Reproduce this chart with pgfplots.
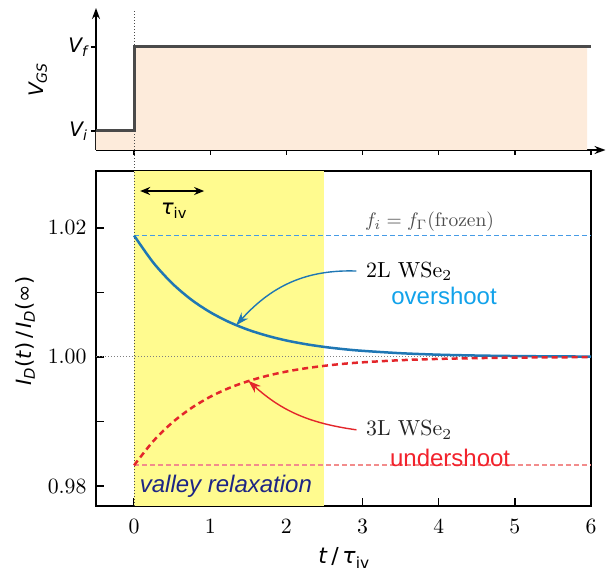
\documentclass[border=0pt]{standalone}
\usepackage{fontspec}
\usepackage{graphicx}
\usepackage{pgfplots}
\pgfplotsset{compat=1.18}
\usetikzlibrary{arrows.meta}
\newfontfamily\dv{DejaVu Sans}
\newfontfamily\lib{Liberation Sans}
\definecolor{stepgray}{HTML}{4A4A4A}
\definecolor{peach}{HTML}{FDEBDB}
\definecolor{hiyel}{HTML}{FFFB8F}
\definecolor{cblue}{HTML}{1F77B4}
\definecolor{cred}{HTML}{E3262B}
\definecolor{oblue}{HTML}{12A2EA}
\definecolor{ured}{HTML}{F2222C}
\definecolor{frzred}{HTML}{F28C8C}
\definecolor{navy}{HTML}{1D2585}
\newcommand{\fs}[1]{\fontsize{#1}{#1}\selectfont}
\newcommand{\tl}[1]{\resizebox{!}{14.5pt}{#1}}
\begin{document}
\begin{tikzpicture}
\useasboundingbox (-96pt,-65pt) rectangle (512pt,506pt);

% ---- top panel: gate voltage step ----
\begin{axis}[
  at={(0pt,356pt)}, anchor=south west,
  scale only axis, width=509.5pt, height=142pt,
  xmin=-0.5, xmax=6.19, ymin=0, ymax=142,
  axis lines=left,
  axis line style={line width=1.5pt, black, -{Stealth[length=11pt,width=8pt]}},
  xtick={0,...,6}, xticklabels={},
  ytick={19,103}, yticklabels={{\dv\itshape V\textsubscript{i}},{\dv\itshape V\textsubscript{f}}},
  yticklabel style={font=\fs{20}},
  tick align=outside, major tick length=5pt,
  tick style={line width=1.3pt, black},
  clip=false,
]
\addplot[fill=peach, draw=none] coordinates {(-0.5,0) (-0.5,19) (0,19) (0,103) (5.95,103) (5.95,0)} \closedcycle;
\draw[stepgray, line width=1pt, dotted] (axis cs:0,-21) -- (axis cs:0,140);
\addplot[stepgray, line width=3pt] coordinates {(-0.5,19) (0,19) (0,103) (6,103)};
\end{axis}

% ---- bottom panel: drain current relaxation ----
\begin{axis}[
  at={(0pt,0pt)}, anchor=south west,
  scale only axis, width=495pt, height=335pt,
  xmin=-0.5, xmax=6, ymin=0.9769, ymax=1.0288,
  axis line style={line width=1.8pt, black},
  xtick={0,...,6}, ytick={0.98,1.00,1.02}, minor ytick={0.99,1.01},
  xticklabels={\tl{0},\tl{1},\tl{2},\tl{3},\tl{4},\tl{5},\tl{6}},
  yticklabels={\tl{0.98},\tl{1.00},\tl{1.02}},
  xtick pos=bottom, ytick pos=left,
  tick align=inside, major tick length=8pt, minor tick length=8pt,
  tick style={line width=1.5pt, black},
  xticklabel style={yshift=-9pt},
  yticklabel style={xshift=-6pt},
  clip=false,
]
\fill[hiyel] (axis cs:0,0.9769) rectangle (axis cs:2.5,1.0288);
\draw[stepgray, line width=1pt, dotted] (axis cs:0,0.9769) -- (axis cs:0,1.0288);
\draw[gray, line width=1pt, dotted] (axis cs:-0.5,1) -- (axis cs:6,1);
\addplot[draw={rgb,255:red,70;green,155;blue,230}, line width=1.8pt, dash pattern=on 5pt off 3pt] coordinates {(0,1.0188) (6,1.0188)};
\addplot[draw=frzred, line width=1.8pt, dash pattern=on 5pt off 3pt] coordinates {(0,0.9832) (6,0.9832)};
\addplot[color=cblue, line width=2.5pt, smooth] coordinates {
(0,1.01880) (0.25,1.01464) (0.5,1.01140) (0.75,1.00888) (1,1.00692) (1.25,1.00539)
(1.5,1.00419) (1.75,1.00327) (2,1.00254) (2.25,1.00198) (2.5,1.00154) (2.75,1.00120)
(3,1.00094) (3.5,1.00057) (4,1.00034) (4.5,1.00021) (5,1.00013) (5.5,1.00008) (6,1.00005)};
\addplot[color=cred, line width=2.5pt, smooth, dash pattern=on 6pt off 4pt] coordinates {
(0,0.98320) (0.25,0.98692) (0.5,0.98981) (0.75,0.99206) (1,0.99382) (1.25,0.99519)
(1.5,0.99625) (1.75,0.99708) (2,0.99773) (2.25,0.99823) (2.5,0.99862) (2.75,0.99893)
(3,0.99916) (3.5,0.99949) (4,0.99969) (4.5,0.99981) (5,0.99989) (5.5,0.99993) (6,0.99996)};
% annotations
\draw[{Stealth[length=10pt,width=8pt]}-{Stealth[length=10pt,width=8pt]}, line width=1.8pt] (axis cs:0.08,1.0257) -- (axis cs:0.92,1.0257);
\node[font=\fs{21}] at (axis cs:0.525,1.0226) {{\dv\itshape τ}\textsubscript{\dv iv}};
\node[text=black!70] at (axis cs:3.88,1.0209) {\resizebox{129pt}{!}{$f_i = f_\Gamma(\mathrm{frozen})$}};
\node[anchor=west] at (axis cs:3.0,1.0133) {\resizebox{86pt}{!}{2L WSe$_2$}};
\node[font=\lib\fs{24}, text=oblue] at (axis cs:4.07,1.0095) {overshoot};
\draw[cblue, line width=1.4pt, -{Stealth[length=13pt,width=9pt]}] (axis cs:2.92,1.0133) to[out=178, in=48] (axis cs:1.34,1.0049);
\node[anchor=west, text=black!85] at (axis cs:3.0,0.9887) {\resizebox{86pt}{!}{3L WSe$_2$}};
\node[font=\lib\fs{24}, text=ured] at (axis cs:4.15,0.98434) {undershoot};
\draw[cred, line width=1.4pt, -{Stealth[length=13pt,width=9pt]}] (axis cs:2.92,0.9887) to[out=172, in=-42] (axis cs:1.5,0.9963);
\node[font=\lib\itshape\fs{24}, text=navy, anchor=west] at (axis cs:0.03,0.9800) {valley relaxation};
\end{axis}

% axis titles
\node[font=\fs{20}, rotate=90] at (-58pt,426pt) {{\dv\itshape V\textsubscript{GS}}};
\node[font=\dv\fs{21}, rotate=90] at (-71pt,175pt) {\textit{I}\textsubscript{\textit{D}}(\textit{t})\,/\,\textit{I}\textsubscript{\textit{D}}(∞)};
\node[font=\dv\fs{22}] at (248pt,-52pt) {\textit{t}\,/\,\textit{τ}\textsubscript{iv}};
\end{tikzpicture}
\end{document}
